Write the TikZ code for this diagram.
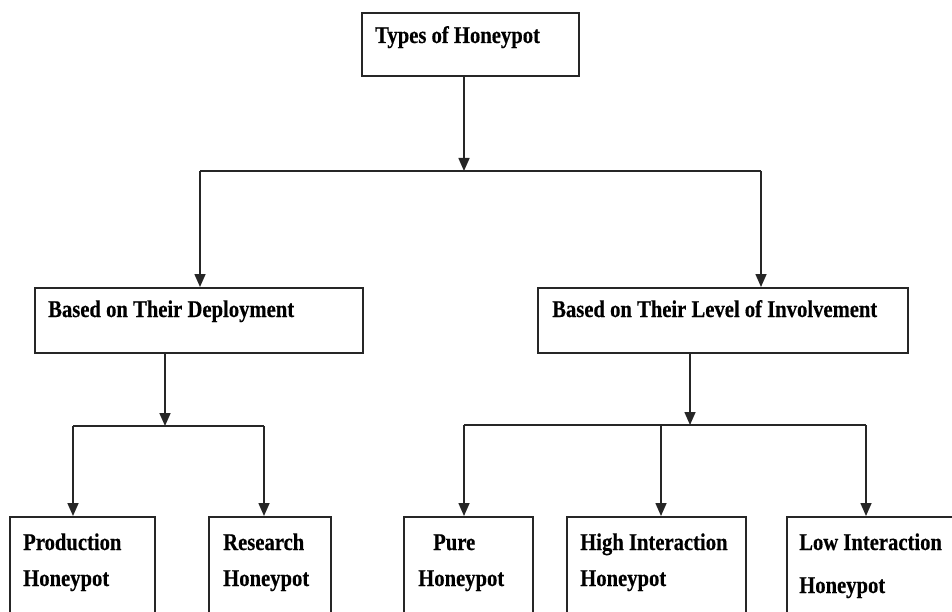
\documentclass[tikz,border=0pt]{standalone}
\usepackage{fontspec}
\newfontfamily\hfont{Liberation Serif}[FakeStretch=0.86,BoldFeatures={FakeBold=0.4}]
\usetikzlibrary{arrows.meta}
\newcommand{\twoline}[3]{\vtop{\baselineskip=#3\hbox{#1}\hbox{#2}}}
\begin{document}
\begin{tikzpicture}[x=1pt,y=-1pt,
  boxshape/.style={draw=black!85, line width=1.9pt, inner sep=0pt, anchor=north west, rectangle},
  lbl/.style={inner sep=0pt, anchor=base west, font=\hfont\bfseries\fontsize{24}{28}\selectfont, text=black},
  conn/.style={draw=black!85, line width=1.6pt},
  arr/.style={conn, -{Triangle[width=11pt,length=13pt]}}]
\useasboundingbox (0,0) rectangle (952,612);
\clip (0,0) rectangle (952,612);
% boxes
\node[boxshape, minimum width=217pt, minimum height=63pt] (top) at (361,12) {};
\node[boxshape, minimum width=328pt, minimum height=65pt] (dep) at (34,287) {};
\node[boxshape, minimum width=370pt, minimum height=65pt] (inv) at (537,287) {};
\node[boxshape, minimum width=145pt, minimum height=130pt] (prod) at (9,516) {};
\node[boxshape, minimum width=122pt, minimum height=130pt] (res) at (208,516) {};
\node[boxshape, minimum width=129pt, minimum height=130pt] (pure) at (403,516) {};
\node[boxshape, minimum width=179pt, minimum height=130pt] (high) at (566,516) {};
\node[boxshape, minimum width=200pt, minimum height=130pt] (low) at (786,516) {};
% labels
\node[lbl] (ttop) at (375,43) {Types of Honeypot};
\node[lbl] (tdep) at (48,317) {Based on Their Deployment};
\node[lbl] (tinv) at (552,317) {Based on Their Level of Involvement};
\node[lbl] (tprod) at (23,550) {\twoline{Production}{Honeypot}{36pt}};
\node[lbl] (tres) at (223,550) {\twoline{Research}{Honeypot}{36pt}};
\node[lbl] (tpure) at (418,550) {\twoline{\kern15pt Pure}{Honeypot}{36pt}};
\node[lbl] (thigh) at (580,550) {\twoline{High Interaction}{Honeypot}{36pt}};
\node[lbl] (tlow) at (799,550) {\twoline{Low Interaction}{Honeypot}{43pt}};
% junction coordinates
\coordinate (j0) at (464,171);
\coordinate (j0l) at (200,171);
\coordinate (j0r) at (761,171);
\coordinate (j1) at (165,426);
\coordinate (j1l) at (73,426);
\coordinate (j1r) at (264,426);
\coordinate (j2) at (690,425);
\coordinate (j2l) at (464,425);
\coordinate (j2m) at (661,425);
\coordinate (j2r) at (866,425);
% connectors
\draw[arr] (top.south -| j0) -- (j0);
\draw[conn] (j0l) -- (j0r);
\draw[arr] (j0l) -- (j0l |- dep.north);
\draw[arr] (j0r) -- (j0r |- inv.north);
\draw[arr] (dep.south -| j1) -- (j1);
\draw[conn] (j1l) -- (j1r);
\draw[arr] (j1l) -- (j1l |- prod.north);
\draw[arr] (j1r) -- (j1r |- res.north);
\draw[arr] (inv.south -| j2) -- (j2);
\draw[conn] (j2l) -- (j2r);
\draw[arr] (j2l) -- (j2l |- pure.north);
\draw[arr] (j2m) -- (j2m |- high.north);
\draw[arr] (j2r) -- (j2r |- low.north);
\end{tikzpicture}
\end{document}
